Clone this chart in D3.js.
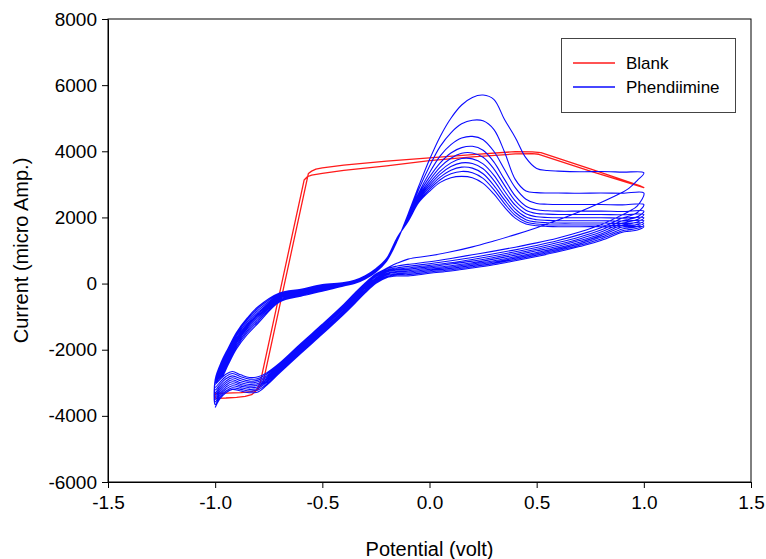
<!DOCTYPE html>
<html>
<head>
<meta charset="utf-8">
<script src="https://cdn.jsdelivr.net/npm/d3@7"></script>
<style>
  html, body { margin: 0; padding: 0; background: #fff; }
  svg { display: block; }
  text { font-family: "Liberation Sans", Arial, sans-serif; fill: #000; }
</style>
</head>
<body>
<svg id="chart" width="766" height="559"></svg>
<script>
// Axis ticks
const xTicks = [-1.5, -1.0, -0.5, 0.0, 0.5, 1.0, 1.5];
const yTicks = [-6000, -4000, -2000, 0, 2000, 4000, 6000, 8000];

// Blank electrolyte: anodic sweep then cathodic sweep (potential in V, current in µA)
const blankFwdPotential = [-1.00, -0.95, -0.90, -0.86, -0.83, -0.81, -0.79, -0.585, -0.57, -0.55, -0.50, -0.40, -0.20, 0.00, 0.20, 0.40, 0.48, 0.51, 0.75, 1.00];
const blankFwdCurrent   = [-3470, -3460, -3440, -3410, -3360, -3250, -3000, 3130, 3230, 3280, 3330, 3420, 3560, 3720, 3830, 3920, 3930, 3910, 3400, 2900];
const blankRevPotential = [0.98, 0.75, 0.52, 0.48, 0.40, 0.20, 0.00, -0.20, -0.40, -0.50, -0.53, -0.55, -0.565, -0.775, -0.80, -0.83, -0.88, -0.95, -1.00, -1.00];
const blankRevCurrent   = [2960, 3470, 3960, 3980, 3990, 3900, 3800, 3700, 3580, 3500, 3460, 3400, 3330, -2950, -3200, -3270, -3300, -3310, -3320, -3470];

// Phendiimine: ten successive cycles, each an anodic sweep (-1.0 -> 1.0 V)
// followed by a cathodic sweep (1.0 -> -1.0 V)
const fwdPotential = [-1.00, -0.97, -0.94, -0.90, -0.85, -0.80, -0.70, -0.60, -0.50, -0.40, -0.35, -0.30, -0.25, -0.20, -0.15, -0.10, -0.05, 0.00, 0.05, 0.10, 0.15, 0.20, 0.25, 0.30, 0.35, 0.40, 0.45, 0.50, 0.55, 0.60, 0.70, 0.80, 0.90, 1.00];
const revPotential = [0.97, 0.93, 0.90, 0.80, 0.70, 0.60, 0.50, 0.40, 0.30, 0.20, 0.10, 0.00, -0.10, -0.15, -0.20, -0.25, -0.30, -0.35, -0.40, -0.50, -0.60, -0.70, -0.76, -0.80, -0.84, -0.88, -0.92, -0.95, -0.98, -1.00];

const cycle1Fwd  = [-3000, -2850, -2460, -1970, -1540, -1200, -560, -380, -230, -70, 0, 140, 350, 680, 1300, 2100, 2950, 3750, 4450, 5000, 5400, 5630, 5700, 5570, 4960, 4420, 3800, 3480, 3420, 3400, 3380, 3390, 3370, 3350];
const cycle1Rev  = [3120, 2880, 2760, 2450, 2170, 1920, 1690, 1480, 1290, 1110, 960, 840, 740, 620, 460, 290, 20, -300, -630, -1230, -1810, -2410, -2700, -2820, -2840, -2760, -2660, -2740, -2920, -3050];
const cycle2Fwd  = [-2990, -2790, -2400, -1910, -1480, -1140, -525, -350, -205, -58, 12, 152, 362, 690, 1320, 2050, 2850, 3550, 4150, 4560, 4830, 4940, 4920, 4660, 3980, 3150, 2800, 2750, 2740, 2740, 2730, 2740, 2730, 2740];
const cycle2Rev  = [2350, 2180, 2080, 1780, 1560, 1380, 1230, 1100, 980, 870, 760, 660, 580, 530, 450, 270, 0, -330, -660, -1260, -1840, -2440, -2740, -2870, -2890, -2820, -2720, -2810, -3000, -3140];
const cycle3Fwd  = [-2980, -2730, -2340, -1850, -1420, -1080, -490, -320, -180, -45, 25, 165, 375, 700, 1330, 2020, 2750, 3350, 3860, 4200, 4400, 4450, 4350, 4000, 3450, 2900, 2550, 2420, 2400, 2390, 2390, 2390, 2380, 2390];
const cycle3Rev  = [2150, 2040, 1980, 1690, 1480, 1300, 1150, 1020, 900, 790, 690, 600, 520, 480, 410, 240, -40, -370, -700, -1300, -1880, -2480, -2790, -2920, -2950, -2880, -2790, -2880, -3070, -3220];
const cycle4Fwd  = [-2960, -2670, -2280, -1790, -1360, -1020, -460, -300, -160, -35, 35, 175, 385, 710, 1340, 2000, 2700, 3220, 3650, 3950, 4110, 4150, 4030, 3680, 3150, 2650, 2340, 2230, 2200, 2190, 2190, 2190, 2180, 2190];
const cycle4Rev  = [2020, 1940, 1900, 1620, 1410, 1240, 1090, 960, 840, 730, 630, 550, 470, 440, 380, 210, -70, -400, -730, -1330, -1910, -2510, -2830, -2970, -3000, -2940, -2850, -2950, -3140, -3300];
const cycle5Fwd  = [-2950, -2620, -2230, -1740, -1310, -970, -430, -280, -140, -25, 45, 185, 395, 715, 1350, 1980, 2650, 3120, 3520, 3790, 3940, 3950, 3820, 3470, 2970, 2500, 2220, 2120, 2100, 2090, 2090, 2090, 2080, 2090];
const cycle5Rev  = [1940, 1870, 1830, 1560, 1350, 1180, 1040, 910, 790, 680, 590, 510, 430, 410, 350, 170, -110, -440, -760, -1360, -1940, -2540, -2870, -3020, -3050, -3000, -2910, -3010, -3200, -3370];
const cycle6Fwd  = [-2940, -2570, -2180, -1690, -1260, -920, -400, -260, -120, -15, 55, 195, 405, 725, 1360, 1960, 2610, 3040, 3400, 3650, 3780, 3770, 3620, 3280, 2800, 2370, 2110, 2020, 2000, 1990, 1990, 1990, 1980, 1990];
const cycle6Rev  = [1860, 1800, 1770, 1500, 1300, 1130, 990, 860, 740, 630, 540, 470, 390, 370, 310, 140, -140, -470, -800, -1400, -1980, -2580, -2910, -3070, -3100, -3050, -2970, -3070, -3260, -3440];
const cycle7Fwd  = [-2930, -2520, -2130, -1640, -1210, -870, -375, -240, -100, -5, 65, 205, 415, 735, 1370, 1940, 2570, 2970, 3310, 3540, 3650, 3630, 3470, 3120, 2660, 2250, 2010, 1930, 1910, 1900, 1900, 1900, 1890, 1900];
const cycle7Rev  = [1790, 1740, 1710, 1450, 1250, 1080, 940, 810, 690, 590, 500, 430, 350, 340, 280, 110, -180, -510, -830, -1430, -2010, -2610, -2950, -3120, -3150, -3100, -3030, -3130, -3320, -3510];
const cycle8Fwd  = [-2920, -2460, -2070, -1580, -1150, -810, -345, -220, -80, 5, 75, 215, 425, 745, 1380, 1920, 2530, 2910, 3220, 3430, 3520, 3490, 3320, 2970, 2530, 2150, 1930, 1860, 1840, 1830, 1830, 1830, 1820, 1830];
const cycle8Rev  = [1730, 1680, 1650, 1400, 1200, 1040, 900, 770, 650, 550, 460, 390, 310, 300, 250, 70, -210, -540, -860, -1460, -2040, -2640, -2990, -3170, -3200, -3150, -3090, -3190, -3380, -3580];
const cycle9Fwd  = [-2910, -2400, -2010, -1520, -1090, -750, -315, -195, -55, 17, 87, 227, 437, 755, 1390, 1900, 2490, 2850, 3140, 3320, 3390, 3350, 3180, 2840, 2420, 2060, 1860, 1800, 1780, 1770, 1770, 1770, 1760, 1770];
const cycle9Rev  = [1670, 1630, 1600, 1350, 1160, 1000, 860, 730, 610, 510, 420, 350, 270, 270, 210, 40, -250, -580, -900, -1500, -2080, -2680, -3040, -3220, -3250, -3200, -3150, -3250, -3440, -3660];
const cycle10Fwd = [-2900, -2350, -1960, -1470, -1040, -700, -285, -170, -30, 30, 100, 240, 450, 760, 1400, 1880, 2450, 2790, 3060, 3200, 3240, 3200, 3030, 2710, 2310, 1980, 1800, 1750, 1730, 1720, 1720, 1720, 1710, 1720];
const cycle10Rev = [1620, 1580, 1550, 1300, 1120, 960, 820, 690, 570, 470, 380, 310, 230, 230, 180, 10, -280, -610, -930, -1530, -2110, -2710, -3080, -3280, -3300, -3250, -3200, -3300, -3500, -3750];

const cycles = [
  [cycle1Fwd, cycle1Rev], [cycle2Fwd, cycle2Rev], [cycle3Fwd, cycle3Rev],
  [cycle4Fwd, cycle4Rev], [cycle5Fwd, cycle5Rev], [cycle6Fwd, cycle6Rev],
  [cycle7Fwd, cycle7Rev], [cycle8Fwd, cycle8Rev], [cycle9Fwd, cycle9Rev],
  [cycle10Fwd, cycle10Rev]
];

const svg = d3.select("#chart");
const margin = { left: 108, right: 15, top: 19, bottom: 77 };
const W = 766, H = 559;

const x = d3.scaleLinear().domain([-1.5, 1.5]).range([margin.left, W - margin.right]);
const y = d3.scaleLinear().domain([-6000, 8000]).range([H - margin.bottom, margin.top]);

// Plot frame
svg.append("rect")
  .attr("x", x(-1.5)).attr("y", y(8000))
  .attr("width", x(1.5) - x(-1.5)).attr("height", y(-6000) - y(8000))
  .attr("fill", "none").attr("stroke", "#000").attr("stroke-width", 1);

// Axes (plain hyphen for negative numbers)
const xAxis = svg.append("g")
  .attr("transform", `translate(0,${y(-6000)})`)
  .call(d3.axisBottom(x).tickValues(xTicks).tickFormat(d => d.toFixed(1)).tickSizeInner(6).tickSizeOuter(0).tickPadding(8));
const yAxis = svg.append("g")
  .attr("transform", `translate(${x(-1.5)},0)`)
  .call(d3.axisLeft(y).tickValues(yTicks).tickFormat(d => String(d)).tickSizeInner(6).tickSizeOuter(0).tickPadding(5));

[xAxis, yAxis].forEach(g => {
  g.select(".domain").attr("stroke", "#000");
  g.selectAll(".tick line").attr("stroke", "#000");
  g.selectAll(".tick text")
    .style("font-family", '"Liberation Sans", Arial, sans-serif')
    .style("font-size", "19px").attr("fill", "#000");
});

// Axis titles
svg.append("text")
  .attr("x", x(0)).attr("y", 556)
  .attr("text-anchor", "middle")
  .style("font-size", "20px")
  .text("Potential (volt)");
svg.append("text")
  .attr("transform", `translate(28,${(y(8000) + y(-6000)) / 2}) rotate(-90)`)
  .attr("text-anchor", "middle")
  .style("font-size", "20px")
  .text("Current (micro Amp.)");

svg.append("clipPath").attr("id", "plotClip")
  .append("rect")
  .attr("x", x(-1.5)).attr("y", y(8000))
  .attr("width", x(1.5) - x(-1.5)).attr("height", y(-6000) - y(8000));

// Blank trace
const blankPts = blankFwdPotential.map((e, i) => [e, blankFwdCurrent[i]])
  .concat(blankRevPotential.map((e, i) => [e, blankRevCurrent[i]]));
const linear = d3.line().x(d => x(d[0])).y(d => y(d[1]));
svg.append("path")
  .attr("clip-path", "url(#plotClip)")
  .attr("d", linear(blankPts))
  .attr("fill", "none").attr("stroke", "#ff1a1a").attr("stroke-width", 1.3)
  .attr("stroke-linejoin", "round");

// Phendiimine cycles as one continuous trace
const smooth = d3.line().x(d => x(d[0])).y(d => y(d[1])).curve(d3.curveCatmullRom.alpha(0.5));
const phenPts = [];
cycles.forEach(([fwd, rev]) => {
  fwdPotential.forEach((e, i) => phenPts.push([e, fwd[i]]));
  revPotential.forEach((e, i) => phenPts.push([e, rev[i]]));
});
svg.append("path")
  .attr("clip-path", "url(#plotClip)")
  .attr("d", smooth(phenPts))
  .attr("fill", "none").attr("stroke", "#0a0aff").attr("stroke-width", 1.1)
  .attr("stroke-linejoin", "round");

// Legend
const legend = svg.append("g");
legend.append("rect")
  .attr("x", 561.5).attr("y", 38.5).attr("width", 174).attr("height", 74)
  .attr("fill", "#fff").attr("stroke", "#444").attr("stroke-width", 1);
const legendItems = [
  { label: "Blank", color: "#ff1a1a", yPos: 63 },
  { label: "Phendiimine", color: "#0a0aff", yPos: 87 }
];
legendItems.forEach(it => {
  legend.append("line")
    .attr("x1", 573).attr("x2", 615).attr("y1", it.yPos).attr("y2", it.yPos)
    .attr("stroke", it.color).attr("stroke-width", 1.3);
  legend.append("text")
    .attr("x", 626).attr("y", it.yPos + 6)
    .style("font-size", "17px")
    .text(it.label);
});
</script>
</body>
</html>
